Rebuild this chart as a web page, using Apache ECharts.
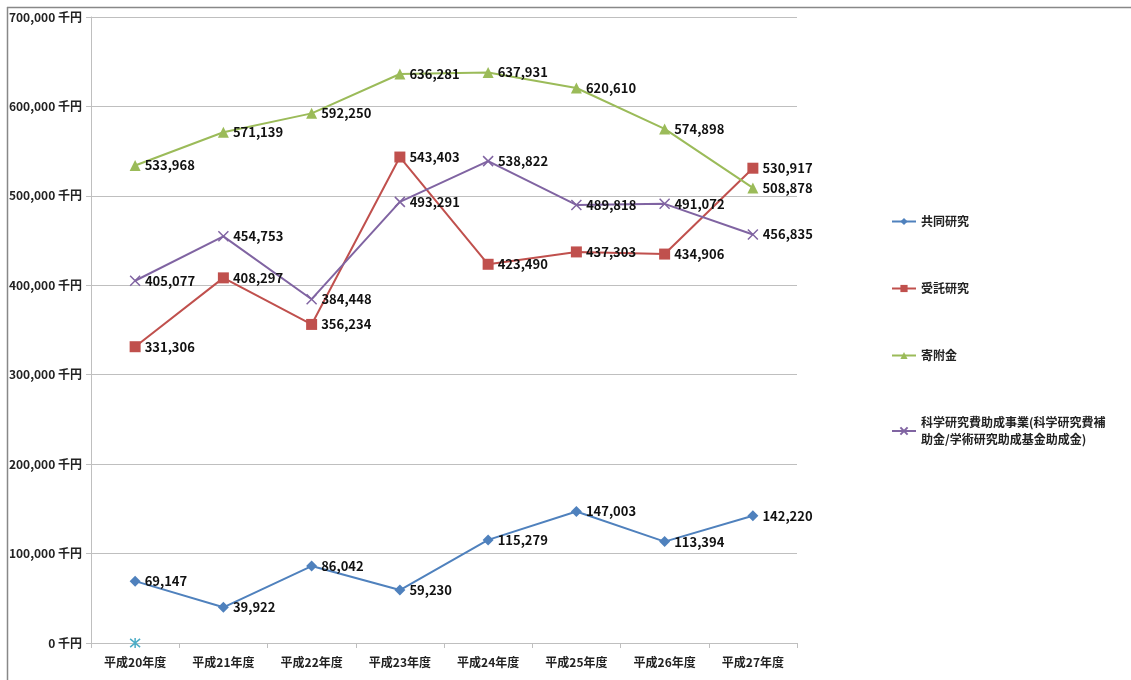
<!DOCTYPE html>
<html>
<head>
<meta charset="utf-8">
<script src="https://cdn.jsdelivr.net/npm/echarts@6/dist/echarts.min.js"></script>
<style>html,body{margin:0;padding:0;background:#fff;}#c{width:1131px;height:680px;}</style>
</head>
<body>
<div id="c"></div>
<script>
const categories = ['平成20年度','平成21年度','平成22年度','平成23年度','平成24年度','平成25年度','平成26年度','平成27年度'];
const seriesNames = ['共同研究','受託研究','寄附金','科学研究費助成事業(科学研究費補助金/学術研究助成基金助成金)'];
const kyodo = [69147, 39922, 86042, 59230, 115279, 147003, 113394, 142220];
const jutaku = [331306, 408297, 356234, 543403, 423490, 437303, 434906, 530917];
const kifu = [533968, 571139, 592250, 636281, 637931, 620610, 574898, 508878];
const kaken = [405077, 454753, 384448, 493291, 538822, 489818, 491072, 456835];
const extra = [0, null, null, null, null, null, null, null];
const yTicks = [0, 100000, 200000, 300000, 400000, 500000, 600000, 700000];

const FONT = "'Liberation Sans Narrow','Noto Sans CJK JP',sans-serif";
const JFONT = "'Noto Sans CJK JP',sans-serif";
const colors = ['#4F81BD', '#C0504D', '#9BBB59', '#8064A2', '#4BACC6'];
const xPath = 'path://M0,0L10,10M10,0L0,10';
const starPath = 'path://M0,0L10,10M10,0L0,10M5,-1L5,11';

function fmt(v){ return v.toLocaleString('en-US'); }

function mk(name, data, color, symbol, size, extraStyle){
  return {
    name: name, type: 'line', data: data,
    symbol: symbol, symbolSize: size,
    lineStyle: {color: color, width: 2},
    itemStyle: Object.assign({color: color}, extraStyle || {}),
    label: {show: true, position: 'right', distance: 4, color: '#111',
            fontFamily: FONT, fontWeight: 'bold', fontSize: 13,
            formatter: p => fmt(p.value)},
    z: 3
  };
}

const legendTops = [208, 275, 342, 409];
const legends = seriesNames.map((n, i) => ({
  data: [n], orient: 'vertical', left: 886, top: legendTops[i],
  itemWidth: 24, itemHeight: 9, itemGap: 0,
  textStyle: {fontFamily: JFONT, fontWeight: 'bold', fontSize: 12, color: '#222', lineHeight: 17},
  formatter: name => name.length > 20 ? name.slice(0, 16) + '\n' + name.slice(16) : name,
  selectedMode: false
}));

const chart = echarts.init(document.getElementById('c'));
chart.setOption({
  animation: false,
  backgroundColor: '#fff',
  legend: legends,
  graphic: [
    {type: 'line', shape: {x1: 7, y1: 7.5, x2: 1131, y2: 7.5}, style: {stroke: '#888', lineWidth: 1.5}},
    {type: 'line', shape: {x1: 7.5, y1: 7, x2: 7.5, y2: 680}, style: {stroke: '#888', lineWidth: 1.5}}
  ],
  grid: {left: 91, right: 334, top: 17, bottom: 37, containLabel: false},
  xAxis: {
    type: 'category', data: categories, boundaryGap: true,
    axisLine: {lineStyle: {color: '#bfbfbf', width: 1}},
    axisTick: {show: true, length: 5, lineStyle: {color: '#bfbfbf'}},
    axisLabel: {fontFamily: JFONT, fontWeight: 'bold', fontSize: 12, color: '#222', margin: 13}
  },
  yAxis: {
    type: 'value', min: 0, max: 700000, interval: 100000,
    axisLine: {show: true, lineStyle: {color: '#bfbfbf'}},
    axisTick: {show: true, length: 5, lineStyle: {color: '#bfbfbf'}},
    splitLine: {lineStyle: {color: '#bfbfbf'}},
    axisLabel: {fontFamily: FONT, fontWeight: 'bold', fontSize: 12, color: '#222', margin: 9,
      formatter: v => yTicks.includes(v) ? fmt(v) + ' 千円' : ''}
  },
  series: [
    mk(seriesNames[0], kyodo, colors[0], 'diamond', 11),
    mk(seriesNames[1], jutaku, colors[1], 'rect', 11),
    mk(seriesNames[2], kifu, colors[2], 'triangle', 11),
    mk(seriesNames[3], kaken, colors[3], xPath, 10, {borderColor: colors[3], borderWidth: 1.5}),
    {name: 'extra', type: 'line', data: extra, symbol: starPath, symbolSize: 10,
     lineStyle: {width: 0}, itemStyle: {color: colors[4], borderColor: colors[4], borderWidth: 1.5},
     label: {show: false}, z: 4}
  ]
});
</script>
</body>
</html>
